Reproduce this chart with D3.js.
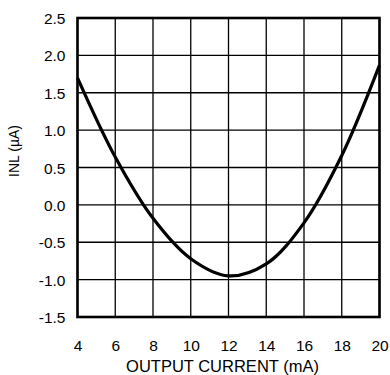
<!DOCTYPE html>
<html>
<head>
<meta charset="utf-8">
<script src="https://cdnjs.cloudflare.com/ajax/libs/d3/7.8.5/d3.min.js"></script>
<style>
  html, body { margin: 0; padding: 0; background: #fff; }
  svg text { font-family: "Liberation Sans", Arial, sans-serif; fill: #000; }
</style>
</head>
<body>
<div id="chart"></div>
<script>
// output current (mA) and INL (uA)
var currents = [4, 6, 8, 10, 12, 14, 16, 18, 20];
var inl = [1.70, 0.64, -0.18, -0.72, -0.95, -0.79, -0.24, 0.66, 1.87];

var xTicks = [4, 6, 8, 10, 12, 14, 16, 18, 20];
var yTicks = [-1.5, -1.0, -0.5, 0.0, 0.5, 1.0, 1.5, 2.0, 2.5];

var width = 390,
	height = 375,
	plot = {left: 77.5, right: 379.5, top: 18, bottom: 317};

var svg = d3.select("#chart")
	.append("svg")
	.attr("width", width)
	.attr("height", height);

var x = d3.scaleLinear()
	.domain([4, 20])
	.range([plot.left, plot.right]);

var y = d3.scaleLinear()
	.domain([-1.5, 2.5])
	.range([plot.bottom, plot.top]);

// plain hyphen for negatives, like the original
var fmt = function(d) { return d3.format(".1f")(d).replace("\u2212", "-"); };

// grid
svg.append("g")
	.selectAll("line.v")
	.data(xTicks)
	.enter()
	.append("line")
	.attr("x1", function(d) { return x(d); })
	.attr("x2", function(d) { return x(d); })
	.attr("y1", plot.top)
	.attr("y2", plot.bottom)
	.style("stroke", "#000")
	.style("stroke-width", 1.3);

svg.append("g")
	.selectAll("line.h")
	.data(yTicks)
	.enter()
	.append("line")
	.attr("x1", plot.left)
	.attr("x2", plot.right)
	.attr("y1", function(d) { return y(d); })
	.attr("y2", function(d) { return y(d); })
	.style("stroke", "#000")
	.style("stroke-width", 1.3);

// frame
svg.append("rect")
	.attr("x", plot.left)
	.attr("y", plot.top)
	.attr("width", plot.right - plot.left)
	.attr("height", plot.bottom - plot.top)
	.style("fill", "none")
	.style("stroke", "#000")
	.style("stroke-width", 2.6);

// axes (labels only)
var yAxis = d3.axisLeft(y)
	.tickValues(yTicks)
	.tickSize(0)
	.tickPadding(12)
	.tickFormat(fmt);

var yG = svg.append("g")
	.attr("transform", "translate(" + plot.left + ",0)")
	.call(yAxis);
yG.select(".domain").remove();
yG.selectAll("text")
	.attr("font-family", null)
	.attr("font-size", null)
	.style("font-size", "15.5px")
	.attr("dy", "0.36em");

var xAxis = d3.axisBottom(x)
	.tickValues(xTicks)
	.tickSize(0)
	.tickPadding(23)
	.tickFormat(d3.format("d"));

var xG = svg.append("g")
	.attr("transform", "translate(0," + plot.bottom + ")")
	.call(xAxis);
xG.select(".domain").remove();
xG.selectAll("text")
	.attr("font-family", null)
	.attr("font-size", null)
	.style("font-size", "15.5px");
yG.attr("font-family", null).attr("font-size", null);
xG.attr("font-family", null).attr("font-size", null);

// axis titles
svg.append("text")
	.attr("x", (plot.left + plot.right) / 2 - 6)
	.attr("y", 372)
	.style("text-anchor", "middle")
	.style("font-size", "16.5px")
	.text("OUTPUT CURRENT (mA)");

svg.append("text")
	.attr("transform", "translate(18.5,151) rotate(-90)")
	.style("text-anchor", "middle")
	.style("font-size", "14px")
	.text("INL (µA)");

// curve
var line = d3.line()
	.x(function(d, i) { return x(currents[i]); })
	.y(function(d) { return y(d); })
	.curve(d3.curveCatmullRom);

svg.append("path")
	.attr("d", line(inl))
	.style("fill", "none")
	.style("stroke", "#000")
	.style("stroke-width", 3.2);
</script>
</body>
</html>
